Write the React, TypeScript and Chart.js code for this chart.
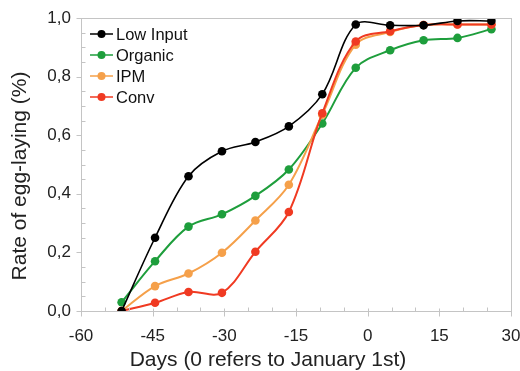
import React, { useEffect, useRef } from "react";
import { Chart, registerables } from "chart.js";

Chart.register(...registerables);

const days = [-51.5, -44.5, -37.5, -30.5, -23.5, -16.5, -9.5, -2.5, 4.7, 11.7, 18.8, 25.9];
const lowInput = [0.0, 0.25, 0.46, 0.545, 0.577, 0.63, 0.74, 0.978, 0.975, 0.975, 0.99, 0.99];
const organic = [0.03, 0.17, 0.288, 0.33, 0.393, 0.483, 0.64, 0.83, 0.89, 0.924, 0.932, 0.962];
const ipm = [0.0, 0.085, 0.128, 0.199, 0.309, 0.431, 0.67, 0.909, 0.952, 0.976, 0.978, 0.978];
const conv = [0.0, 0.028, 0.065, 0.062, 0.202, 0.338, 0.675, 0.92, 0.955, 0.976, 0.978, 0.978];

const seriesNames = ["Low Input", "Organic", "IPM", "Conv"];
const seriesColors = ["#000000", "#1e9e3c", "#f5a04a", "#f03a22"];
const xTicks = [-60, -45, -30, -15, 0, 15, 30];
const yTicks = [0, 0.2, 0.4, 0.6, 0.8, 1.0];
const xTitle = "Days (0 refers to January 1st)";
const yTitle = "Rate of egg-laying (%)";

const FONT = "'Liberation Sans', Arial, Helvetica, sans-serif";
const AXIS_COLOR = "#c4c4c4";

const framePlugin = {
  id: "frame",
  afterDatasetsDraw(chart: any) {
    const { ctx, chartArea: a, scales } = chart;
    const xs = scales.x;
    const ys = scales.y;
    ctx.save();
    ctx.strokeStyle = AXIS_COLOR;
    ctx.lineWidth = 1;
    const L = Math.round(a.left) + 0.5;
    const R = Math.round(a.right) + 0.5;
    const T = Math.round(a.top) + 0.5;
    const B = Math.round(a.bottom) + 0.5;
    ctx.strokeRect(L, T, R - L, B - T);
    ctx.beginPath();
    for (let v = -60; v <= 30; v += 5) {
      const px = Math.round(xs.getPixelForValue(v)) + 0.5;
      if (v % 15 === 0) {
        ctx.moveTo(px, B - 3);
        ctx.lineTo(px, B + 5);
      } else {
        ctx.moveTo(px, B - 4);
        ctx.lineTo(px, B);
      }
    }
    for (let i = 0; i <= 20; i++) {
      const v = i * 0.05;
      const py = Math.round(ys.getPixelForValue(v)) + 0.5;
      if (i % 4 === 0) {
        ctx.moveTo(L - 5, py);
        ctx.lineTo(L, py);
      } else {
        ctx.moveTo(L, py);
        ctx.lineTo(L + 4, py);
      }
    }
    ctx.stroke();
    ctx.restore();
  },
  afterDraw(chart: any) {
    const { ctx, chartArea: a } = chart;
    ctx.save();
    const x0 = a.left + 9;
    const rowY = [34, 55, 76, 97];
    ctx.font = `16.5px ${FONT}`;
    ctx.textBaseline = "middle";
    ctx.textAlign = "left";
    seriesNames.forEach((name, i) => {
      const y = rowY[i];
      ctx.strokeStyle = seriesColors[i];
      ctx.lineWidth = 1.5;
      ctx.beginPath();
      ctx.moveTo(x0, y);
      ctx.lineTo(x0 + 23, y);
      ctx.stroke();
      ctx.fillStyle = seriesColors[i];
      ctx.beginPath();
      ctx.arc(x0 + 11.5, y, 4, 0, Math.PI * 2);
      ctx.fill();
      ctx.fillStyle = "#111";
      ctx.fillText(name, x0 + 26, y + 1);
    });
    ctx.fillStyle = "#222";
    ctx.font = `21px ${FONT}`;
    ctx.textAlign = "center";
    ctx.textBaseline = "middle";
    ctx.fillText(xTitle, 268, 360);
    ctx.translate(20, 176);
    ctx.rotate(-Math.PI / 2);
    ctx.fillText(yTitle, 0, 0);
    ctx.restore();
  },
};

export default function App() {
  const ref = useRef<HTMLCanvasElement>(null);
  useEffect(() => {
    document.body.style.margin = "0";
    const series = [lowInput, organic, ipm, conv];
    const orders = [0, 3, 2, 1];
    const chart = new Chart(ref.current!, {
      type: "line",
      data: {
        datasets: series.map((vals, i) => ({
          label: seriesNames[i],
          data: vals.map((v, j) => ({ x: days[j], y: v })),
          borderColor: seriesColors[i],
          backgroundColor: seriesColors[i],
          borderWidth: i === 0 ? 1.6 : 2,
          pointRadius: 4.3,
          pointBorderWidth: 0,
          pointBackgroundColor: seriesColors[i],
          tension: 0.35,
          order: orders[i],
          fill: false,
        })),
      },
      options: {
        animation: false,
        responsive: false,
        devicePixelRatio: 1,
        layout: { padding: { left: 0, right: 9, top: 18, bottom: 0 } },
        plugins: { legend: { display: false }, tooltip: { enabled: false } },
        scales: {
          x: {
            type: "linear",
            min: -60,
            max: 30,
            afterBuildTicks: (s: any) => {
              s.ticks = xTicks.map((v) => ({ value: v }));
            },
            afterFit: (s: any) => {
              s.height = 60;
              s.paddingRight = 0;
              s.paddingLeft = 0;
            },
            grid: { display: false, drawTicks: false },
            border: { display: false },
            ticks: {
              padding: 15,
              color: "#222",
              font: { family: FONT, size: 17 },
              callback: (v: any) => String(v),
              maxRotation: 0,
            },
            title: { display: false },
          },
          y: {
            min: 0,
            max: 1,
            afterBuildTicks: (s: any) => {
              s.ticks = yTicks.map((v) => ({ value: v }));
            },
            afterFit: (s: any) => {
              s.width = 81;
              s.paddingTop = 0;
              s.paddingBottom = 0;
            },
            grid: { display: false, drawTicks: false },
            border: { display: false },
            ticks: {
              padding: 10,
              color: "#222",
              font: { family: FONT, size: 17 },
              callback: (v: any) => Number(v).toFixed(1).replace(".", ","),
            },
            title: { display: false },
          },
        },
      },
      plugins: [framePlugin],
    });
    return () => chart.destroy();
  }, []);
  return <canvas ref={ref} width={520} height={371} style={{ display: "block" }} />;
}
